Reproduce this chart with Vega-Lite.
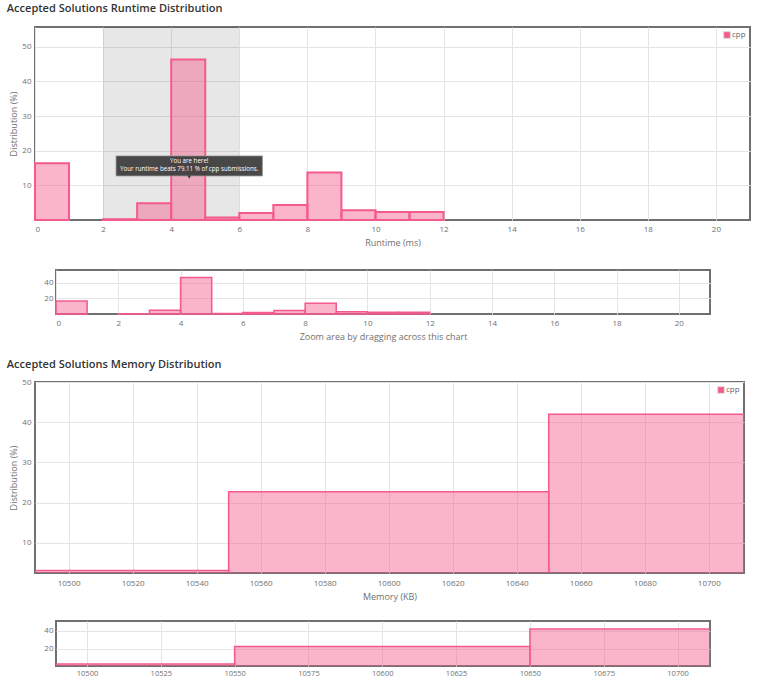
{
  "$schema": "https://vega.github.io/schema/vega-lite/v6.json",
  "background": "white",
  "padding": {"left": 5, "top": 2, "right": 2, "bottom": 0},
  "datasets": {
    "runtime": [
      {"lo": 0, "hi": 1, "pct": 16.4},
      {"lo": 2, "hi": 3, "pct": 0.2},
      {"lo": 3, "hi": 4, "pct": 4.8},
      {"lo": 4, "hi": 5, "pct": 46.3},
      {"lo": 5, "hi": 6, "pct": 0.7},
      {"lo": 6, "hi": 7, "pct": 2.0},
      {"lo": 7, "hi": 8, "pct": 4.3},
      {"lo": 8, "hi": 9, "pct": 13.7},
      {"lo": 9, "hi": 10, "pct": 2.8},
      {"lo": 10, "hi": 11, "pct": 2.3},
      {"lo": 11, "hi": 12, "pct": 2.3}
    ],
    "memory": [
      {"lo": 10450, "hi": 10550, "pct": 3.1},
      {"lo": 10550, "hi": 10650, "pct": 22.7},
      {"lo": 10650, "hi": 10750, "pct": 42.0}
    ]
  },
  "config": {
    "font": "Open Sans",
    "view": {"stroke": "#707070", "strokeWidth": 2},
    "axis": {
      "labelFont": "Open Sans", "labelFontSize": 8, "labelColor": "#707070",
      "titleFont": "Open Sans", "titleFontSize": 9, "titleColor": "#707070", "titleFontWeight": "normal",
      "gridColor": "#e4e4e4", "domain": false, "ticks": false, "zindex": 1
    },
    "title": {"font": "Open Sans", "fontSize": 11, "fontWeight": 600, "color": "#333333", "anchor": "start", "frame": "bounds", "baseline": "alphabetic"},
    "legend": {"labelFont": "Open Sans"}
  },
  "resolve": {"scale": {"color": "independent"}, "legend": {"color": "independent"}},
  "spacing": 16,
  "vconcat": [
    {
      "spacing": 21,
      "resolve": {"scale": {"color": "independent"}, "legend": {"color": "independent"}},
      "vconcat": [
        {
          "title": {"text": "Accepted Solutions Runtime Distribution", "offset": 13, "dx": -3},
          "width": 715,
          "height": 193,
          "encoding": {
            "x": {"field": "lo", "type": "quantitative", "scale": {"domain": [0, 21], "nice": false, "zero": false},
                  "axis": {"title": "Runtime (ms)", "values": [0, 2, 4, 6, 8, 10, 12, 14, 16, 18, 20], "labelPadding": 5, "titlePadding": 5}}
          },
          "layer": [
            {
              "data": {"values": [{"lo": 2, "hi": 6}]},
              "mark": {"type": "rect", "color": "#000000", "opacity": 0.095},
              "encoding": {"x2": {"field": "hi"}}
            },
            {
              "data": {"name": "runtime"},
              "mark": {"type": "rect", "fillOpacity": 0.45, "stroke": "#f45b8a", "strokeWidth": 2},
              "encoding": {
                "x2": {"field": "hi"},
                "y": {"field": "pct", "type": "quantitative", "scale": {"domain": [0, 55.7], "nice": false, "zero": false},
                      "axis": {"title": "Distribution (%)", "values": [10, 20, 30, 40, 50], "labelPadding": 4, "titlePadding": 3}},
                "y2": {"datum": 0},
                "color": {"datum": "cpp", "type": "nominal", "scale": {"range": ["#f45b8a"]},
                          "legend": {"title": null, "orient": "top-right", "offset": 4, "padding": 0, "symbolType": "square", "symbolSize": 45, "symbolOpacity": 1, "symbolStrokeColor": "#dddddd", "symbolStrokeWidth": 1, "labelFontSize": 8, "labelColor": "#666666", "labelOffset": 1}}
              }
            },
            {
              "data": {"values": [{"lo": 2.38, "hi": 6.68, "pct": 12.7, "pct2": 18.5}]},
              "mark": {"type": "rect", "fill": "#3a3a3a", "fillOpacity": 0.92, "stroke": "#9a9a9a", "strokeWidth": 0.8},
              "encoding": {
                "x2": {"field": "hi"},
                "y": {"field": "pct", "type": "quantitative", "scale": {"domain": [0, 55.7], "nice": false, "zero": false},
                      "axis": {"title": "Distribution (%)", "values": [10, 20, 30, 40, 50], "labelPadding": 4, "titlePadding": 3}},
                "y2": {"field": "pct2"}
              }
            },
            {
              "data": {"values": [{"lo": 4.53, "pct": 12.4}]},
              "mark": {"type": "point", "shape": "triangle-down", "filled": true, "color": "#3a3a3a", "opacity": 0.95, "size": 14},
              "encoding": {
                "y": {"field": "pct", "type": "quantitative", "scale": {"domain": [0, 55.7], "nice": false, "zero": false},
                      "axis": {"title": "Distribution (%)", "values": [10, 20, 30, 40, 50], "labelPadding": 4, "titlePadding": 3}}
              }
            },
            {
              "data": {"values": [
                {"lo": 4.53, "pct": 16.9, "label": "You are here!"},
                {"lo": 4.53, "pct": 14.7, "label": "Your runtime beats 79.11 % of cpp submissions."}
              ]},
              "mark": {"type": "text", "color": "#ffffff", "fontSize": 6.2, "font": "Open Sans", "align": "center", "baseline": "middle"},
              "encoding": {
                "y": {"field": "pct", "type": "quantitative", "scale": {"domain": [0, 55.7], "nice": false, "zero": false},
                      "axis": {"title": "Distribution (%)", "values": [10, 20, 30, 40, 50], "labelPadding": 4, "titlePadding": 3}},
                "text": {"field": "label"}
              }
            }
          ]
        },
        {
          "spacing": 6,
          "hconcat": [
            {"width": 1, "height": 1, "view": {"stroke": null}, "data": {"values": [{"a": 0}]}, "mark": {"type": "point", "opacity": 0, "size": 1}, "encoding": {}},
            {
              "width": 654,
              "height": 44,
              "data": {"name": "runtime"},
              "mark": {"type": "rect", "fill": "#f45b8a", "fillOpacity": 0.45, "stroke": "#f45b8a", "strokeWidth": 1.5},
              "encoding": {
                "x": {"field": "lo", "type": "quantitative", "scale": {"domain": [0, 21], "nice": false, "zero": false},
                      "axis": {"title": "Zoom area by dragging across this chart", "values": [0, 2, 4, 6, 8, 10, 12, 14, 16, 18, 20], "labelPadding": 5, "titlePadding": 5}},
                "x2": {"field": "hi"},
                "y": {"field": "pct", "type": "quantitative", "scale": {"domain": [0, 56], "nice": false, "zero": false},
                      "axis": {"title": null, "values": [20, 40], "labelPadding": 3}},
                "y2": {"datum": 0}
              }
            }
          ]
        }
      ]
    },
    {
      "spacing": 18,
      "resolve": {"scale": {"color": "independent"}, "legend": {"color": "independent"}},
      "vconcat": [
        {
          "title": {"text": "Accepted Solutions Memory Distribution", "offset": 8, "dx": -3},
          "width": 709,
          "height": 191,
          "data": {"name": "memory"},
          "mark": {"type": "rect", "fillOpacity": 0.45, "stroke": "#f45b8a", "strokeWidth": 1.5, "clip": true},
          "encoding": {
            "x": {"field": "lo", "type": "quantitative", "scale": {"domain": [10489.5, 10711], "nice": false, "zero": false},
                  "axis": {"title": "Memory (KB)", "values": [10500, 10520, 10540, 10560, 10580, 10600, 10620, 10640, 10660, 10680, 10700], "format": "d", "labelPadding": 6, "titlePadding": 5}},
            "x2": {"field": "hi"},
            "y": {"field": "pct", "type": "quantitative", "scale": {"domain": [2.5, 50], "nice": false, "zero": false},
                  "axis": {"title": "Distribution (%)", "values": [10, 20, 30, 40, 50], "labelPadding": 4, "titlePadding": 3}},
            "y2": {"datum": 0},
            "color": {"datum": "cpp", "type": "nominal", "scale": {"range": ["#f45b8a"]},
                      "legend": {"title": null, "orient": "top-right", "offset": 4, "padding": 0, "symbolType": "square", "symbolSize": 45, "symbolOpacity": 1, "symbolStrokeColor": "#dddddd", "symbolStrokeWidth": 1, "labelFontSize": 8, "labelColor": "#666666", "labelOffset": 1}}
          }
        },
        {
          "spacing": 6,
          "hconcat": [
            {"width": 1, "height": 1, "view": {"stroke": null}, "data": {"values": [{"a": 0}]}, "mark": {"type": "point", "opacity": 0, "size": 1}, "encoding": {}},
            {
              "width": 654,
              "height": 45,
              "data": {"name": "memory"},
              "mark": {"type": "rect", "fill": "#f45b8a", "fillOpacity": 0.45, "stroke": "#f45b8a", "strokeWidth": 1.5, "clip": true},
              "encoding": {
                "x": {"field": "lo", "type": "quantitative", "scale": {"domain": [10489.5, 10711], "nice": false, "zero": false},
                      "axis": {"title": null, "values": [10500, 10525, 10550, 10575, 10600, 10625, 10650, 10675, 10700], "format": "d", "labelPadding": 3, "labelFontSize": 7.5}},
                "x2": {"field": "hi"},
                "y": {"field": "pct", "type": "quantitative", "scale": {"domain": [1, 51], "nice": false, "zero": false},
                      "axis": {"title": null, "values": [20, 40], "labelPadding": 3}},
                "y2": {"datum": 0}
              }
            }
          ]
        }
      ]
    }
  ]
}
